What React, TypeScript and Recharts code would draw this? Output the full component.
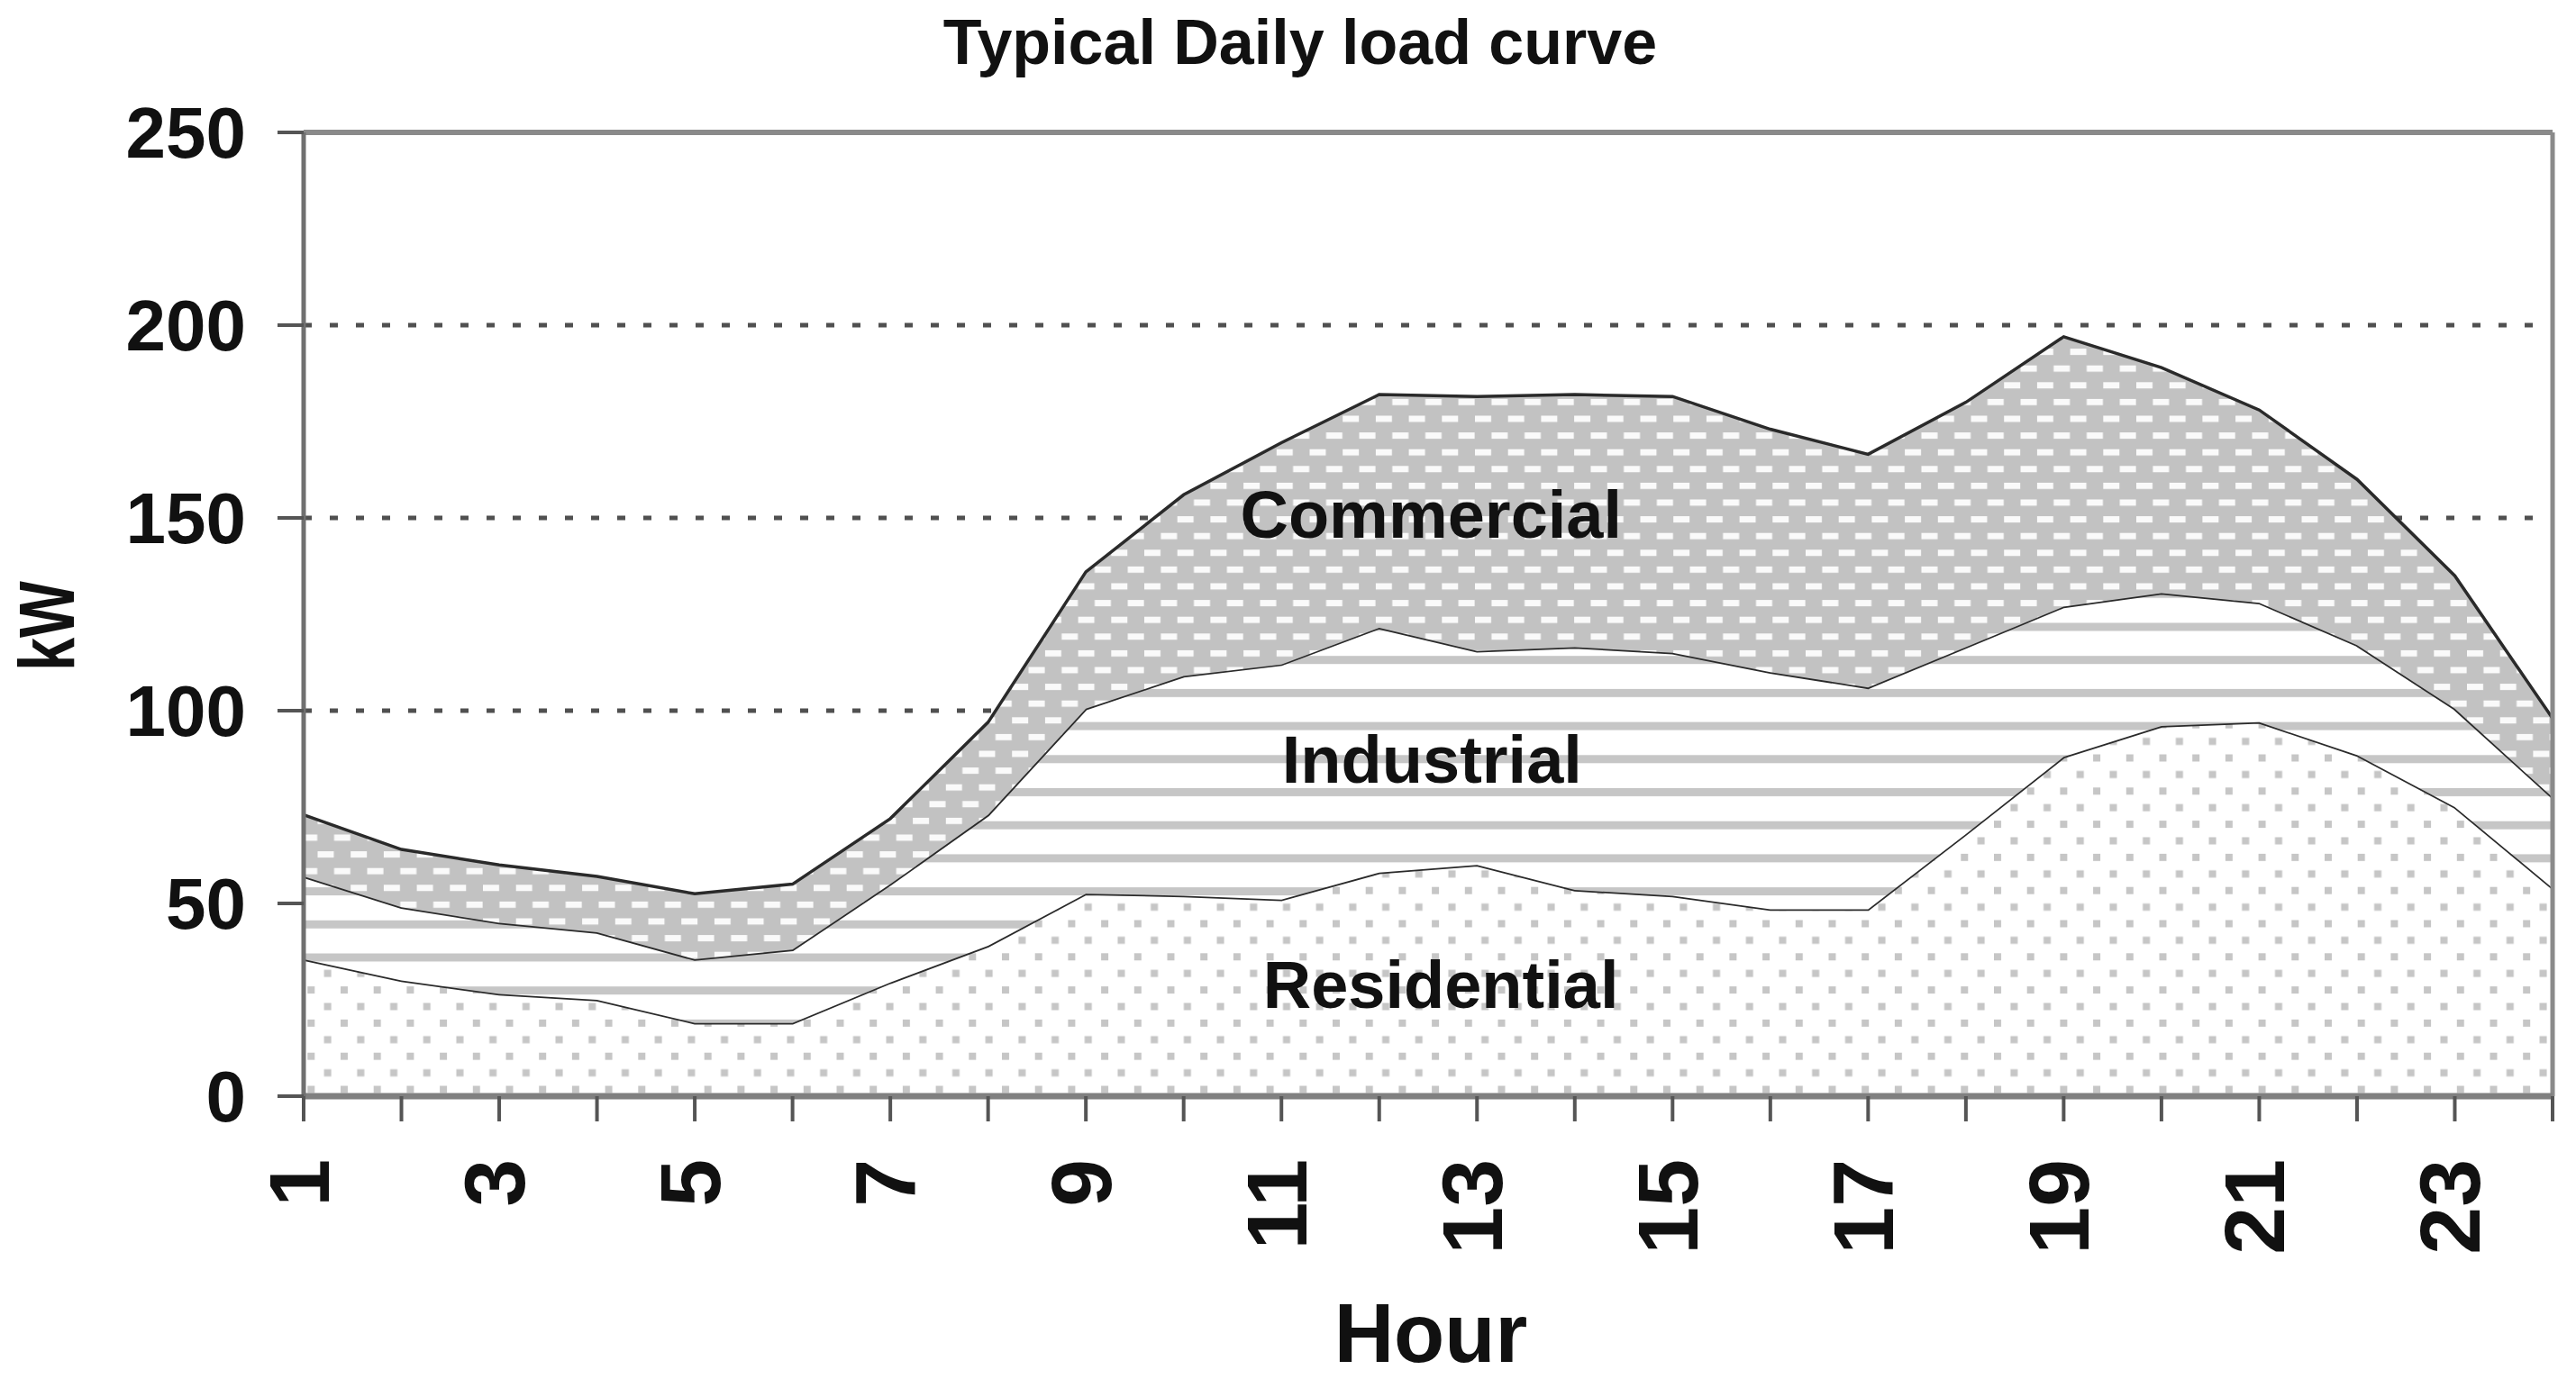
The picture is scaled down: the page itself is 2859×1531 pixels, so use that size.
import { AreaChart, Area, XAxis, YAxis, CartesianGrid, ReferenceLine, ReferenceDot } from "recharts";

const hours = [1, 2, 3, 4, 5, 6, 7, 8, 9, 10, 11, 12, 13, 14, 15, 16, 17, 18, 19, 20, 21, 22, 23, 24];
const residential = [35.5, 30, 26.5, 25, 19, 19, 29.5, 39, 52.5, 52, 51, 58, 60, 53.5, 52, 48.5, 48.5, 68, 88, 96, 97, 88.5, 75, 54];
const industrial = [21.5, 19, 18.5, 17.5, 16.5, 19, 25.5, 34, 48, 57, 61, 63.5, 55.5, 63, 63, 61.5, 57.5, 48.5, 39, 34.5, 31, 28.5, 25.5, 23.5];
const commercial = [16, 15, 15, 14.5, 17, 17, 17, 24, 35.5, 47, 57.5, 60.5, 66, 65.5, 66.5, 63, 60.5, 63.5, 70, 58.5, 50, 43, 34.5, 20.5];

const hourLabels = [1, 3, 5, 7, 9, 11, 13, 15, 17, 19, 21, 23];
const kwTicks = [0, 50, 100, 150, 200, 250];

const areaLabels = [
  { name: "Commercial", hour: 12.53, kw: 151 },
  { name: "Industrial", hour: 12.54, kw: 87.5 },
  { name: "Residential", hour: 12.63, kw: 29 },
];

const font = "'Liberation Sans', Arial, sans-serif";

const data = hours.map((h, i) => ({
  hour: h,
  residential: residential[i],
  industrial: industrial[i],
  commercial: commercial[i],
}));

const HourTick = (props: any) => {
  const { x, y, payload } = props;
  if (!hourLabels.includes(payload.value)) return <g />;
  return (
    <text
      transform={`translate(${x + 28},${y}) rotate(-90)`}
      textAnchor="end"
      fontSize={95}
      fontWeight="bold"
      fontFamily={font}
      fill="#111"
    >
      {payload.value}
    </text>
  );
};

const KwLabel = (props: any) => {
  const vb = props.viewBox || { x: 0, y: 147, width: 337, height: 1070 };
  return (
    <text
      transform={`translate(${vb.x + 82},${vb.y + vb.height / 2 + 13}) rotate(-90)`}
      textAnchor="middle"
      fontSize={88}
      fontWeight="bold"
      fontFamily={font}
      fill="#111"
      textLength={100}
      lengthAdjust="spacingAndGlyphs"
    >
      kW
    </text>
  );
};

const HourLabel = (props: any) => {
  const vb = props.viewBox || { x: 337, y: 1217, width: 2496, height: 314 };
  return (
    <text
      x={vb.x + vb.width / 2 + 3}
      y={vb.y + 295}
      textAnchor="middle"
      fontSize={92}
      fontWeight="bold"
      fontFamily={font}
      fill="#111"
    >
      Hour
    </text>
  );
};

export default function App() {
  return (
    <div style={{ position: "absolute", left: 0, top: 0, width: 2859, height: 1531, background: "#fff" }}>
      <div
        style={{
          position: "absolute",
          left: 0,
          top: 12,
          width: 2886,
          textAlign: "center",
          fontFamily: font,
          fontWeight: "bold",
          fontSize: 70,
          lineHeight: "70px",
          color: "#111",
        }}
      >
        Typical Daily load curve
      </div>
      <AreaChart width={2859} height={1531} data={data} margin={{ top: 147, right: 26, bottom: 0, left: 0 }}>
        <defs>
          <pattern id="patCom" patternUnits="userSpaceOnUse" x={22.2} y={15.1} width={36.7} height={37.2}>
            <rect x={0} y={0} width={36.7} height={37.2} fill="#c2c2c2" />
            <rect x={0} y={0} width={18} height={7} fill="#fafafa" />
            <rect x={18.35} y={18.6} width={18} height={7} fill="#fafafa" />
          </pattern>
          <pattern id="patInd" patternUnits="userSpaceOnUse" x={0} y={30.9} width={36.7} height={36.7}>
            <rect x={0} y={0} width={36.7} height={36.7} fill="#ffffff" />
            <rect x={0} y={0} width={36.7} height={9} fill="#c6c6c6" />
          </pattern>
          <pattern id="patRes" patternUnits="userSpaceOnUse" x={11} y={27.9} width={36.7} height={36.8}>
            <rect x={0} y={0} width={36.7} height={36.8} fill="#ffffff" />
            <rect x={0} y={0} width={8} height={8} fill="#c6c6c6" />
            <rect x={18.35} y={18.4} width={8} height={8} fill="#c6c6c6" />
          </pattern>
        </defs>
        <CartesianGrid vertical={false} stroke="#505050" strokeWidth={5} strokeDasharray="9 20" />
        <XAxis
          dataKey="hour"
          type="number"
          domain={[1, 24]}
          ticks={hours}
          interval={0}
          height={314}
          tickSize={28}
          tickMargin={42}
          tick={<HourTick />}
          axisLine={{ stroke: "#808080", strokeWidth: 7 }}
          tickLine={{ stroke: "#555", strokeWidth: 4 }}
          label={HourLabel}
        />
        <YAxis
          type="number"
          domain={[0, 250]}
          ticks={kwTicks}
          interval={0}
          width={337}
          tickSize={29}
          tickMargin={35}
          tick={{ fontSize: 80, fontWeight: "bold", fill: "#111", fontFamily: font }}
          axisLine={{ stroke: "#707070", strokeWidth: 5 }}
          tickLine={{ stroke: "#555", strokeWidth: 4 }}
          label={KwLabel}
        />
        <Area
          type="linear"
          dataKey="residential"
          stackId="1"
          fill="url(#patRes)"
          fillOpacity={1}
          stroke="#2a2a2a"
          strokeWidth={3.5}
          dot={false}
          activeDot={false}
          isAnimationActive={false}
        />
        <Area
          type="linear"
          dataKey="industrial"
          stackId="1"
          fill="url(#patInd)"
          fillOpacity={1}
          stroke="#2a2a2a"
          strokeWidth={3.5}
          dot={false}
          activeDot={false}
          isAnimationActive={false}
        />
        <Area
          type="linear"
          dataKey="commercial"
          stackId="1"
          fill="url(#patCom)"
          fillOpacity={1}
          stroke="#2a2a2a"
          strokeWidth={3.5}
          dot={false}
          activeDot={false}
          isAnimationActive={false}
        />
        <ReferenceLine y={250} stroke="#8a8a8a" strokeWidth={6} />
        <ReferenceLine x={24} stroke="#8a8a8a" strokeWidth={5} />
        {areaLabels.map((l) => (
          <ReferenceDot
            key={l.name}
            x={l.hour}
            y={l.kw}
            r={0}
            fill="none"
            stroke="none"
            label={{
              value: l.name,
              position: "center",
              fontSize: 74,
              fontWeight: "bold",
              fill: "#111",
              fontFamily: font,
            }}
          />
        ))}
      </AreaChart>
    </div>
  );
}
